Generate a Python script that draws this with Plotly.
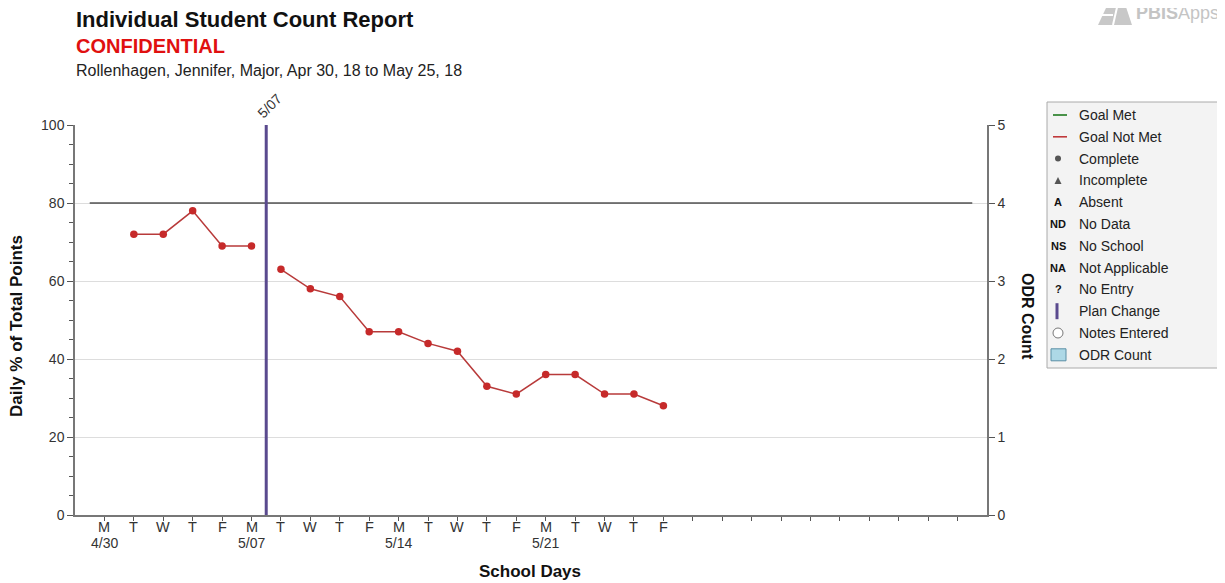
import plotly.graph_objects as go

# ---------------- data ----------------
day_letters = ["M", "T", "W", "T", "F", "M", "T", "W", "T", "F",
               "M", "T", "W", "T", "F", "M", "T", "W", "T", "F"]
week_dates = {0: "4/30", 5: "5/07", 10: "5/14", 15: "5/21"}
total_slots = 30

point_days = [1, 2, 3, 4, 5, 6, 7, 8, 9, 10, 11, 12, 13, 14, 15, 16, 17, 18, 19]
point_values = [72, 72, 78, 69, 69, 63, 58, 56, 47, 47, 44, 42, 33, 31, 36, 36, 31, 31, 28]
point_phase = [0, 0, 0, 0, 0, 1, 1, 1, 1, 1, 1, 1, 1, 1, 1, 1, 1, 1, 1]

odr_counts = [0] * 20

goal_value = 80
goal_start, goal_end = -0.5, 29.5

plan_change_days = [5.5]
plan_change_labels = ["5/07"]

legend_labels = ["Goal Met", "Goal Not Met", "Complete", "Incomplete", "Absent",
                 "No Data", "No School", "Not Applicable", "No Entry",
                 "Plan Change", "Notes Entered", "ODR Count"]
legend_kinds = ["line_green", "line_red", "dot", "tri", "A", "ND", "NS", "NA", "?",
                "bar", "ring", "square"]

# ---------------- geometry (screen pixels) ----------------
SW, SH = 1225, 583
OFF = 8  # page body margin
L, R, T, B = 75, 987, 125, 515


def px(x):
    return (x - L) / (R - L)


def py(y):
    return (B - y) / (B - T)


FONT = "Liberation Sans, Arial, sans-serif"
RED = "#c62a2a"
LINE_RED = "#b83a3a"
PURPLE = "#5a4a8e"

fig = go.Figure()

# ODR bars (all zero) on the right axis
fig.add_trace(go.Bar(x=list(range(len(odr_counts))), y=odr_counts, yaxis="y2",
                     marker=dict(color="#add8e6", line=dict(width=0)),
                     showlegend=False, hoverinfo="skip"))

# goal line
fig.add_trace(go.Scatter(x=[goal_start, goal_end], y=[goal_value, goal_value],
                         mode="lines", line=dict(color="black", width=1),
                         showlegend=False, hoverinfo="skip"))

# data by phase
for ph in sorted(set(point_phase)):
    xs = [d for d, p in zip(point_days, point_phase) if p == ph]
    ys = [v for v, p in zip(point_values, point_phase) if p == ph]
    fig.add_trace(go.Scatter(x=xs, y=ys, mode="lines+markers",
                             line=dict(color=LINE_RED, width=1.5),
                             marker=dict(color=RED, size=7.5),
                             showlegend=False))

shapes = []
annotations = []

# plan change lines
for d, lab in zip(plan_change_days, plan_change_labels):
    shapes.append(dict(type="line", xref="x", yref="y", x0=d, x1=d, y0=0, y1=100,
                       line=dict(color=PURPLE, width=3)))
    annotations.append(dict(x=d, xref="x", y=py(124), yref="paper", text=lab,
                            textangle=-45, showarrow=False, xanchor="left",
                            yanchor="bottom", xshift=-15,
                            font=dict(family=FONT, size=14, color="#333")))

# x ticks; day letters + week dates placed on the x axis scale
tickvals = list(range(total_slots))
for i, letter in enumerate(day_letters):
    annotations.append(dict(x=i, xref="x", y=py(527), yref="paper", text=letter,
                            showarrow=False, xanchor="center", yanchor="middle",
                            font=dict(family=FONT, size=14.5, color="#333")))
for i, dlab in week_dates.items():
    annotations.append(dict(x=i, xref="x", y=py(543), yref="paper", text=dlab,
                            showarrow=False, xanchor="center", yanchor="middle",
                            font=dict(family=FONT, size=14, color="#333")))

# titles
annotations += [
    dict(x=px(74), y=py(19), xref="paper", yref="paper", xanchor="left", yanchor="middle",
         text="<b>Individual Student Count Report</b>", showarrow=False,
         font=dict(family=FONT, size=22, color="#111")),
    dict(x=px(74), y=py(46), xref="paper", yref="paper", xanchor="left", yanchor="middle",
         text="<b>CONFIDENTIAL</b>", showarrow=False,
         font=dict(family=FONT, size=20, color="#e01010")),
    dict(x=px(74), y=py(70), xref="paper", yref="paper", xanchor="left", yanchor="middle",
         text="Rollenhagen, Jennifer, Major, Apr 30, 18 to May 25, 18", showarrow=False,
         font=dict(family=FONT, size=16, color="#222")),
    dict(x=px(1134), y=py(13.5), xref="paper", yref="paper", xanchor="left", yanchor="middle",
         text="<b>PBIS</b>Apps", showarrow=False,
         font=dict(family=FONT, size=18, color="#c4c4c4")),
    dict(x=px(16), y=py(326), xref="paper", yref="paper", xanchor="center", yanchor="middle",
         text="<b>Daily % of Total Points</b>", textangle=-90, showarrow=False,
         font=dict(family=FONT, size=17, color="#111")),
    dict(x=px(1028), y=py(316), xref="paper", yref="paper", xanchor="center", yanchor="middle",
         text="<b>ODR Count</b>", textangle=90, showarrow=False,
         font=dict(family=FONT, size=16, color="#111")),
    dict(x=px(530), y=py(571), xref="paper", yref="paper", xanchor="center", yanchor="middle",
         text="<b>School Days</b>", showarrow=False,
         font=dict(family=FONT, size=17, color="#111")),
]

# logo icon (simple)
shapes.append(dict(type="path", xref="paper", yref="paper",
                   path=f"M {px(1098)} {py(25)} L {px(1106)} {py(8)} L {px(1116)} {py(1)} "
                        f"L {px(1124)} {py(1)} L {px(1132)} {py(25)} Z",
                   fillcolor="#c8c8c8", line=dict(width=0)))
shapes.append(dict(type="line", xref="paper", yref="paper",
                   x0=px(1118), x1=px(1113), y0=py(3), y1=py(25),
                   line=dict(color="white", width=2)))
shapes.append(dict(type="line", xref="paper", yref="paper",
                   x0=px(1101), x1=px(1113), y0=py(15), y1=py(15),
                   line=dict(color="white", width=2)))

# legend box
shapes.append(dict(type="rect", xref="paper", yref="paper",
                   x0=px(1047), x1=px(1224), y0=py(368), y1=py(102),
                   line=dict(color="#aaaaaa", width=1), fillcolor="#f3f3f3"))

sx = 1058
for i, (lab, kind) in enumerate(zip(legend_labels, legend_kinds)):
    yy = 115 + i * 21.8
    annotations.append(dict(x=px(1077), y=py(yy), xref="paper", yref="paper",
                            xanchor="left", yanchor="middle", text=lab, showarrow=False,
                            font=dict(family=FONT, size=14, color="#222")))
    if kind in ("line_green", "line_red"):
        col = "#1e7a1e" if kind == "line_green" else "#c0393b"
        shapes.append(dict(type="line", xref="paper", yref="paper",
                           x0=px(sx - 5), x1=px(sx + 9), y0=py(yy), y1=py(yy),
                           line=dict(color=col, width=1.6)))
    elif kind == "dot":
        shapes.append(dict(type="circle", xref="paper", yref="paper",
                           x0=px(sx - 3), x1=px(sx + 3), y0=py(yy + 3), y1=py(yy - 3),
                           fillcolor="#555", line=dict(width=0)))
    elif kind == "tri":
        shapes.append(dict(type="path", xref="paper", yref="paper",
                           path=f"M {px(sx-3.5)} {py(yy+3.5)} L {px(sx+3.5)} {py(yy+3.5)} L {px(sx)} {py(yy-3.5)} Z",
                           fillcolor="#555", line=dict(width=0)))
    elif kind == "bar":
        shapes.append(dict(type="line", xref="paper", yref="paper",
                           x0=px(sx - 1), x1=px(sx - 1), y0=py(yy + 8), y1=py(yy - 8),
                           line=dict(color=PURPLE, width=3)))
    elif kind == "ring":
        shapes.append(dict(type="circle", xref="paper", yref="paper",
                           x0=px(sx - 5), x1=px(sx + 5), y0=py(yy + 5), y1=py(yy - 5),
                           fillcolor="white", line=dict(color="#777", width=1)))
    elif kind == "square":
        shapes.append(dict(type="rect", xref="paper", yref="paper",
                           x0=px(sx - 7), x1=px(sx + 8), y0=py(yy + 6), y1=py(yy - 6),
                           fillcolor="#add8e6", line=dict(color="#5b8fa6", width=1)))
    else:
        annotations.append(dict(x=px(sx), y=py(yy), xref="paper", yref="paper",
                                xanchor="center", yanchor="middle", text=f"<b>{kind}</b>",
                                showarrow=False,
                                font=dict(family=FONT, size=11, color="#111")))

FW, FH = SW - OFF, SH - OFF
fig.update_layout(
    width=FW, height=FH,
    margin=dict(l=L - OFF, r=SW - R, t=T - OFF, b=SH - B),
    paper_bgcolor="white", plot_bgcolor="white",
    showlegend=False,
    font=dict(family=FONT, size=14, color="#333"),
    xaxis=dict(range=[-1, 30], tickmode="array", tickvals=tickvals, showticklabels=False,
               ticks="outside", ticklen=4, tickcolor="#555", showline=True,
               linecolor="#777", linewidth=1.5, showgrid=False, zeroline=False),
    yaxis=dict(range=[0, 100], dtick=20, ticks="outside", ticklen=6, tickcolor="#555",
               showline=True, linecolor="#777", linewidth=1.5, showgrid=True,
               gridcolor="#dddddd", zeroline=False,
               minor=dict(dtick=5, ticks="outside", ticklen=4, tickcolor="#555", showgrid=False),
               tickfont=dict(family=FONT, size=14, color="#333")),
    yaxis2=dict(range=[0, 5], dtick=1, overlaying="y", side="right", ticks="outside",
                ticklen=6, tickcolor="#555", showline=True, linecolor="#777",
                linewidth=1.5, showgrid=False, zeroline=False,
                tickfont=dict(family=FONT, size=14, color="#333")),
    shapes=shapes, annotations=annotations,
)

fig.write_html("out.html")
